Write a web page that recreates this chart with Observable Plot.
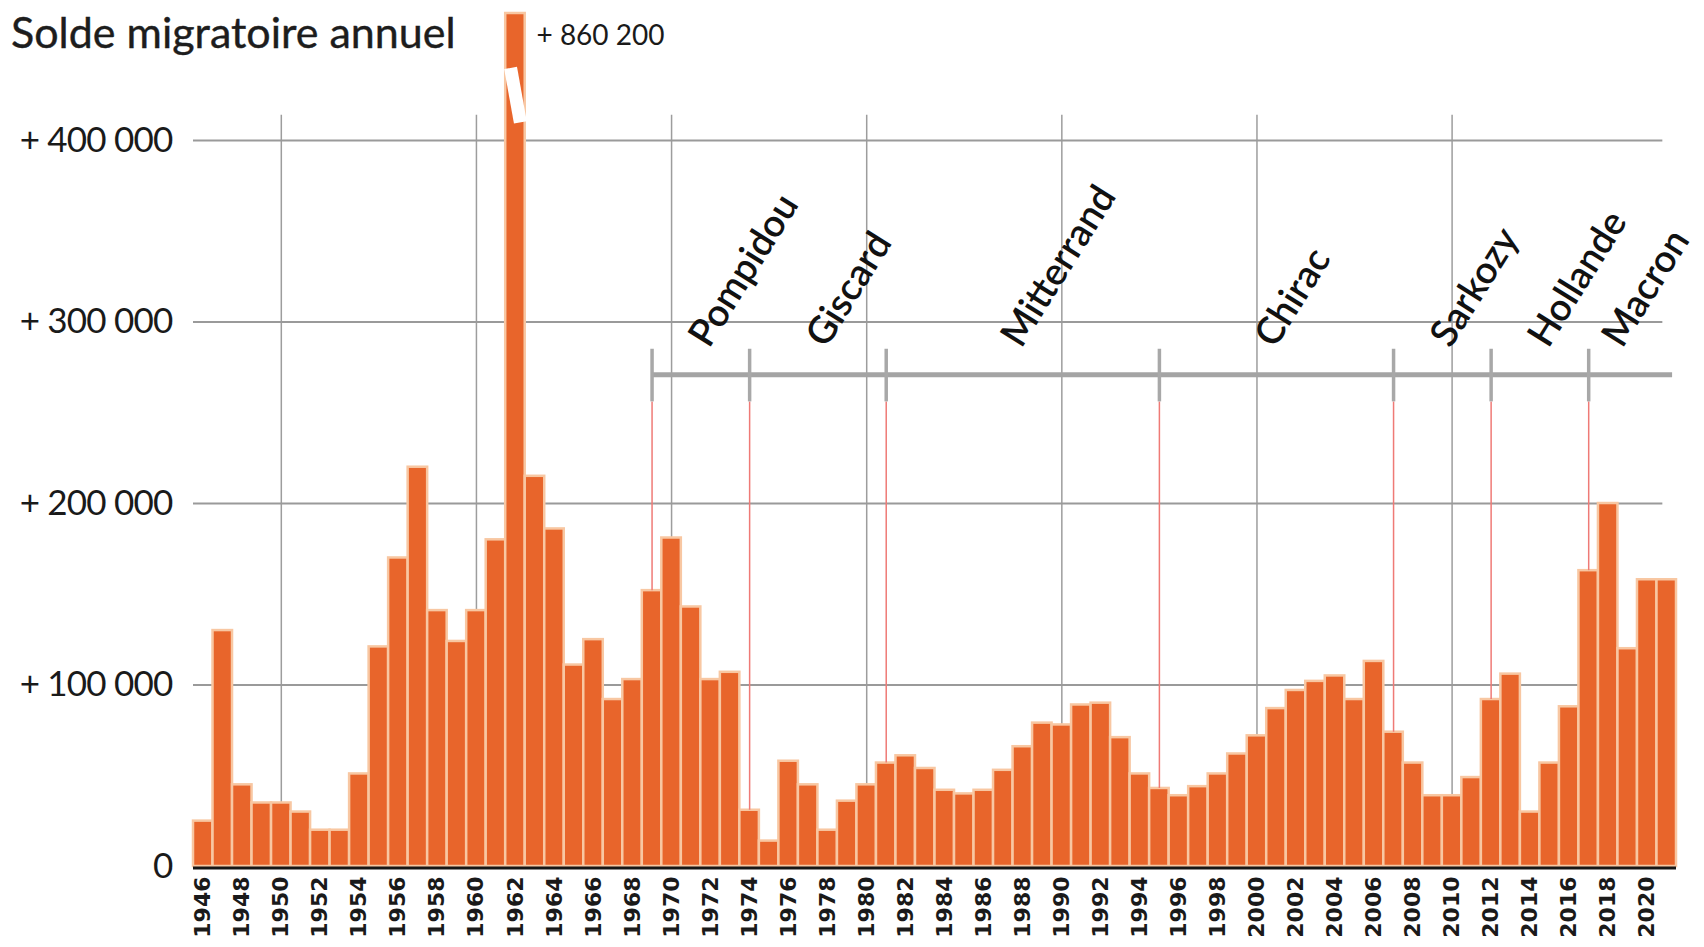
<!DOCTYPE html>
<html><head><meta charset="utf-8">
<script src="https://cdn.jsdelivr.net/npm/d3@7"></script>
<script src="https://cdn.jsdelivr.net/npm/@observablehq/plot@0.6"></script>
<style>
html,body{margin:0;padding:0;background:#fff;}
#wrap{position:relative;width:1704px;height:947px;overflow:hidden;}
#wrap svg{position:absolute;left:0;top:0;}
#title{position:absolute;left:11px;top:10px;font-family:Lato,sans-serif;font-size:43px;color:#1d1d1d;line-height:1;white-space:nowrap;z-index:2;-webkit-text-stroke:0.4px #1d1d1d;}
#wrap svg g[aria-label="y-axis tick label"] text{letter-spacing:-0.8px;}
</style></head><body>
<div id="wrap"><div id="title">Solde migratoire annuel</div></div>
<script>
const years = [1946,1947,1948,1949,1950,1951,1952,1953,1954,1955,1956,1957,1958,1959,1960,1961,1962,1963,1964,1965,
  1966,1967,1968,1969,1970,1971,1972,1973,1974,1975,1976,1977,1978,1979,1980,1981,1982,1983,1984,1985,
  1986,1987,1988,1989,1990,1991,1992,1993,1994,1995,1996,1997,1998,1999,2000,2001,2002,2003,2004,2005,
  2006,2007,2008,2009,2010,2011,2012,2013,2014,2015,2016,2017,2018,2019,2020,2021];
const values = [25000,130000,45000,35000,35000,30000,20000,20000,51000,121000,170000,220000,141000,124000,141000,180000,860200,215000,186000,111000,
  125000,92000,103000,152000,181000,143000,103000,107000,31000,14000,58000,45000,20000,36000,45000,57000,61000,54000,42000,40000,
  42000,53000,66000,79000,78000,89000,90000,71000,51000,43000,39000,44000,51000,62000,72000,87000,97000,102000,105000,92000,
  113000,74000,57000,39000,39000,49000,92000,106000,30000,57000,88000,163000,200000,120000,158000,158000];
const presNames = ["Pompidou","Giscard","Mitterrand","Chirac","Sarkozy","Hollande","Macron"];
const presStart = [1969,1974,1981,1995,2007,2012,2017];
const presEnd   = [1974,1981,1995,2007,2012,2017,2022];
const yTicks = [0,100000,200000,300000,400000];
const decades = [1950,1960,1970,1980,1990,2000,2010];
const xTicks = years.filter(y => y % 2 === 0);

const fr = d3.formatLocale({decimal:",", thousands:" ", grouping:[3], currency:["","€"]});
const fmt = fr.format(",d");
const data = years.map((year,i)=>({year, value: values[i]}));
const peak = data.reduce((a,b)=> b.value > a.value ? b : a);
const firstYear = years[0], lastYear = years[years.length-1];
const presidents = presNames.map((name,i)=>({
  name, start: presStart[i], end: presEnd[i],
  value: values[years.indexOf(presStart[i])],
  labelAt: Math.min(Math.round((presStart[i]+presEnd[i])/2) - 1, lastYear - 3.2)
}));

const BAR_LEVEL = 271000, TICK_TOP = 285000, TICK_BOTTOM = 256000, NAME_LEVEL = 285000, VGRID_TOP = 414000;

const chart = Plot.plot({
  width:1704, height:947, marginTop:13, marginBottom:81, marginLeft:193, marginRight:28,
  x: {domain:[firstYear-0.5, lastYear+0.5]},
  y: {domain:[0,470000], clamp:true},
  style: {background:"transparent", color:"#1a1a1a"},
  marks: [
    Plot.ruleX(decades, {y1:0, y2:VGRID_TOP, stroke:"#9d9d9d", strokeWidth:1.5}),
    Plot.ruleY(yTicks.filter(d=>d>0), {x1:firstYear-0.5, x2:lastYear-0.2, stroke:"#9a9a9a", strokeWidth:2}),
    Plot.rectY(data, {x1: d=>d.year-0.5, x2: d=>d.year+0.5, y1:0, y2:"value", fill:"#e8652b", stroke:"#f8c7a2", strokeWidth:2.5}),
    Plot.link([peak], {x1: d=>d.year-0.25, x2: d=>d.year+0.25, y1: 440000, y2: 410000, stroke:"white", strokeWidth:13}),
    Plot.ruleY([{y:BAR_LEVEL, x1:presidents[0].start, x2:lastYear+0.3}], {y:"y", x1:"x1", x2:"x2", stroke:"#a4a4a4", strokeWidth:5}),
    Plot.ruleX(presidents, {x:"start", y1:"value", y2:TICK_BOTTOM, stroke:"#ef7a76", strokeWidth:1.5}),
    Plot.ruleX(presidents, {x:"start", y1:TICK_BOTTOM, y2:TICK_TOP, stroke:"#a8a8a8", strokeWidth:3.5}),
    Plot.text(presidents, {x:"labelAt", y:NAME_LEVEL, text:"name", rotate:-58, textAnchor:"start", lineAnchor:"bottom",
      dx:18, fontSize:38, fontFamily:"Lato", fontWeight:600, fill:"#111"}),
    Plot.text([peak], {x:"year", y:"value", text: d=>"+ " + fmt(d.value), dx:21, dy:23, textAnchor:"start",
      fontSize:28, fontFamily:"Lato", fill:"#1a1a1a"}),
    Plot.ruleY([0], {stroke:"#161616", strokeWidth:3, dy:1.5}),
    Plot.axisY({ticks: yTicks, tickFormat: d => d === 0 ? "0" : "+ " + fmt(d), tickSize:0, tickPadding:21,
      fontSize:35, fontFamily:"Lato", label:null}),
    Plot.axisX({ticks: xTicks, tickFormat: d => String(d), tickRotate:-90, tickSize:0, tickPadding:10,
      fontSize:22, fontFamily:"DejaVu Sans", fontWeight:"bold", label:null})
  ]
});
document.getElementById("wrap").appendChild(chart);
</script>
</body></html>
